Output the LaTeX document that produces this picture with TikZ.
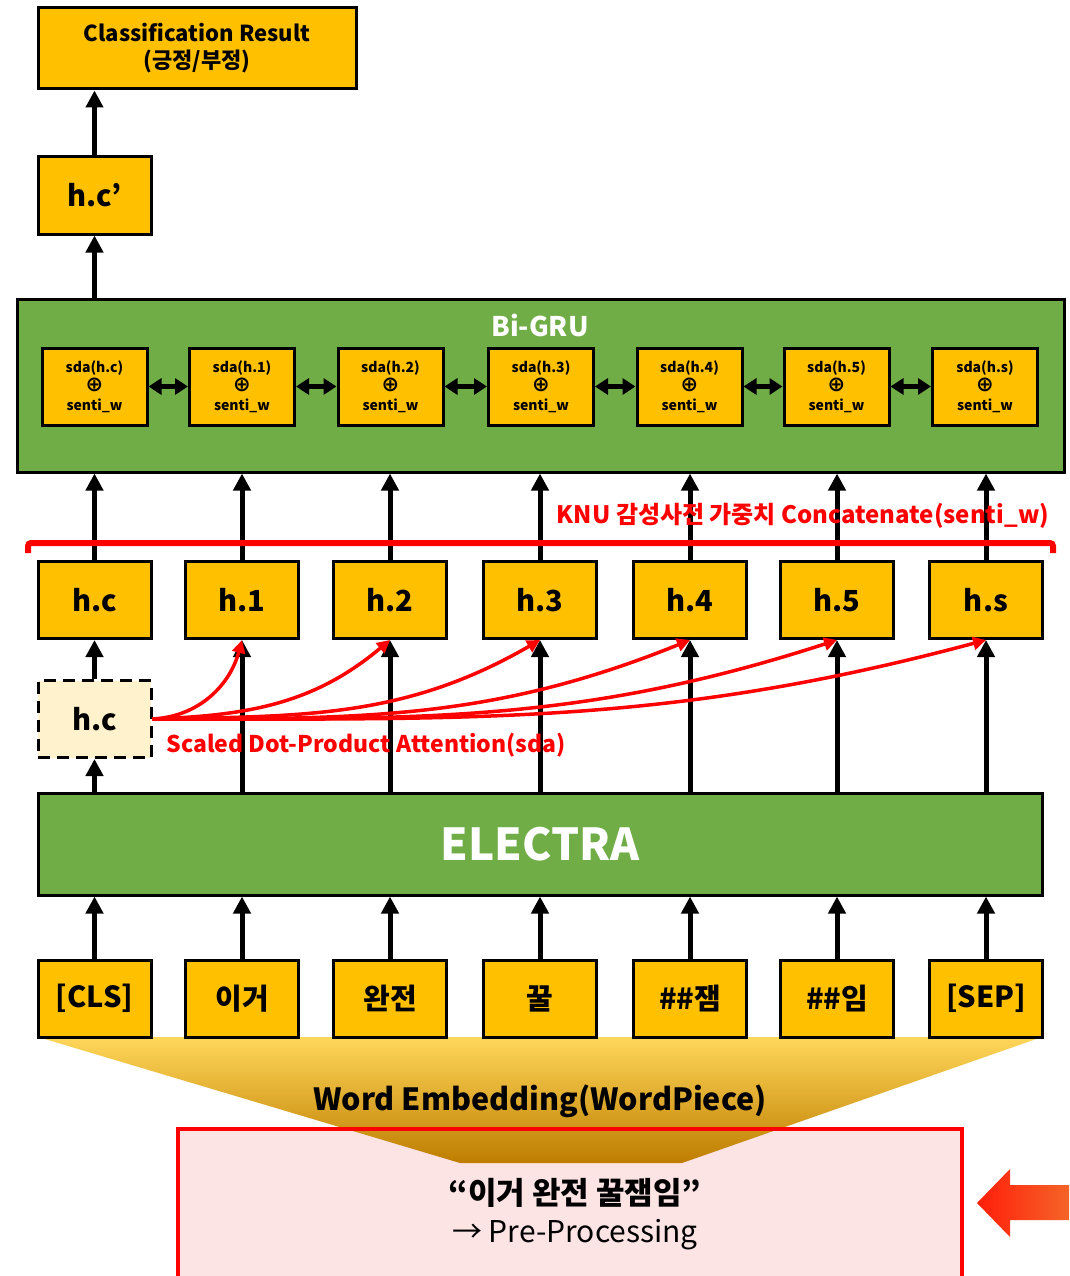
\documentclass[tikz,border=0pt]{standalone}
\usepackage{fontspec}
\setmainfont{Noto Sans CJK KR}
\newfontfamily\symfont{DejaVu Sans}
\usetikzlibrary{arrows.meta,shapes.arrows}

\definecolor{boxorange}{RGB}{255,192,0}
\definecolor{boxgreen}{RGB}{112,173,71}
\definecolor{boxcream}{RGB}{255,242,204}
\definecolor{boxpink}{RGB}{253,228,228}
\definecolor{funtop}{RGB}{255,215,90}
\definecolor{funmid}{RGB}{250,188,10}
\definecolor{funbot}{RGB}{190,125,0}
\definecolor{arrred}{RGB}{255,30,10}
\definecolor{arrorange}{RGB}{245,100,40}

\tikzset{
  tok/.style={draw=black, line width=3pt, fill=boxorange, minimum width=113pt,
    minimum height=77pt, inner sep=0pt, font=\bfseries\fontsize{29}{30}\selectfont},
  sdabox/.style={draw=black, line width=3pt, fill=boxorange, minimum width=105pt,
    minimum height=77pt, inner sep=0pt, align=center,
    font=\bfseries\fontsize{14}{19}\selectfont},
  greenbox/.style={draw=black, line width=3pt, fill=boxgreen, inner sep=0pt},
  up/.style={line width=5pt, -{Triangle[width=17pt,length=17pt]}},
  both/.style={line width=5pt, {Triangle[width=16pt,length=13pt]}-{Triangle[width=16pt,length=13pt]}},
  attn/.style={draw=red, line width=3.5pt, -{Triangle[width=13pt,length=13pt]}},
  redtext/.style={text=red, font=\bfseries\fontsize{23}{26}\selectfont}
}
\newcommand{\plusop}{{\symfont\bfseries\fontsize{21}{19}\selectfont ⊕}}

\begin{document}
\begin{tikzpicture}[x=1pt,y=-1pt]
  \useasboundingbox (0,0) rectangle (1069,1276);

  % Pre-Processing box and funnel
  \fill[boxpink] (176,1127) rectangle (960,1290);
  \shade[top color=funtop, middle color=funmid, bottom color=funbot]
    (38,1037) -- (1042,1037) -- (682,1163) -- (460,1163) -- cycle;
  \node[draw=red, line width=4pt, minimum width=784pt, minimum height=163pt,
    inner sep=0pt, anchor=north west] (pre) at (176,1127) {};
  \node (quote) at (575,1193) {\bfseries\fontsize{31}{32}\selectfont “이거 완전 꿀잼임”};
  \node (prep) at (575,1235) {\fontsize{30}{32}\selectfont → Pre-Processing};
  \node (embed) at (540,1101) {\bfseries\fontsize{30.5}{32}\selectfont Word Embedding(WordPiece)};

  % Freccia di input
  \shade[left color=arrred, right color=arrorange]
    (977,1203) -- (1010,1169) -- (1010,1185) -- (1069,1185) -- (1069,1220)
    -- (1010,1220) -- (1010,1237) -- cycle;

  % Token
  \node[tok] (t0) at (94.5,998.5) {[CLS]};
  \node[tok] (t1) at (242,998.5) {이거};
  \node[tok] (t2) at (390,998.5) {완전};
  \node[tok] (t3) at (540,998.5) {꿀};
  \node[tok] (t4) at (690,998.5) {\#\#잼};
  \node[tok] (t5) at (837,998.5) {\#\#임};
  \node[tok] (t6) at (986,998.5) {[SEP]};

  % ELECTRA
  \node[greenbox, minimum width=1004pt, minimum height=102pt, text=white,
    font=\bfseries\fontsize{44}{50}\selectfont] (electra) at (540,844) {ELECTRA};

  % Hidden states
  \node[tok] (h0) at (94.5,600) {h.c};
  \node[tok] (h1) at (242,600) {h.1};
  \node[tok] (h2) at (390,600) {h.2};
  \node[tok] (h3) at (540,600) {h.3};
  \node[tok] (h4) at (690,600) {h.4};
  \node[tok] (h5) at (837,600) {h.5};
  \node[tok] (h6) at (986,600) {h.s};
  \node[tok, fill=boxcream, dashed, dash pattern=on 12pt off 7pt] (hcd) at (94.5,719) {h.c};

  % Bi-GRU
  \node[greenbox, minimum width=1047pt, minimum height=173pt] (gru) at (540.5,385.5) {};
  \node[text=white, font=\bfseries\fontsize{27}{30}\selectfont] (grulabel) at (540,325) {Bi-GRU};
  \node[sdabox] (s0) at (94.5,386.5) {sda(h.c)\\\plusop\\senti\_w};
  \node[sdabox] (s1) at (242,386.5) {sda(h.1)\\\plusop\\senti\_w};
  \node[sdabox] (s2) at (390.5,386.5) {sda(h.2)\\\plusop\\senti\_w};
  \node[sdabox] (s3) at (541,386.5) {sda(h.3)\\\plusop\\senti\_w};
  \node[sdabox] (s4) at (689.5,386.5) {sda(h.4)\\\plusop\\senti\_w};
  \node[sdabox] (s5) at (836.5,386.5) {sda(h.5)\\\plusop\\senti\_w};
  \node[sdabox] (s6) at (985,386.5) {sda(h.s)\\\plusop\\senti\_w};
  \draw[both] (s0) -- (s1);
  \draw[both] (s1) -- (s2);
  \draw[both] (s2) -- (s3);
  \draw[both] (s3) -- (s4);
  \draw[both] (s4) -- (s5);
  \draw[both] (s5) -- (s6);

  % Uscita
  \node[tok] (hcp) at (94.5,195.5) {h.c’};
  \node[draw=black, line width=3pt, fill=boxorange, minimum width=318pt,
    minimum height=81pt, inner sep=0pt, align=center,
    font=\bfseries\fontsize{22}{27}\selectfont] (result) at (197,48.5)
    {Classification Result\\(긍정/부정)};
  \draw[up] (gru.north -| hcp.south) -- (hcp.south);
  \draw[up] (hcp.north) -- (result.south -| hcp.north);

  % Frecce token -> ELECTRA
  \foreach \i in {0,...,6} {
    \draw[up] (t\i.north) -- (t\i.north |- electra.south);
  }
  % Frecce ELECTRA -> h
  \draw[up] (electra.north -| hcd.south) -- (hcd.south);
  \draw[up] (hcd.north) -- (h0.south);
  \foreach \i in {1,...,6} {
    \draw[up] (h\i.south |- electra.north) -- (h\i.south);
  }
  % Frecce h -> Bi-GRU
  \foreach \i in {0,...,6} {
    \draw[up] (h\i.north) -- (h\i.north |- gru.south);
  }

  % Concatenazione senti_w
  \coordinate (brl) at (28,553);
  \coordinate (brr) at (1053,553);
  \draw[red, line width=6pt, rounded corners=3pt] (brl) -- ++(0,-10) -- (1053,543) -- (brr);
  \node[redtext, font=\bfseries\fontsize{24}{26}\selectfont] (knu) at (803,516)
    {KNU 감성사전 가중치 Concatenate(senti\_w)};

  % Attenzione
  \coordinate (src) at (hcd.east);
  \draw[attn] (src) to[out=3,in=-105] (h1.south);
  \draw[attn] (src) to[out=2,in=-140] (h2.south);
  \draw[attn] (src) to[out=1,in=-150] (h3.south);
  \draw[attn] (src) to[out=0,in=-158] (h4.south);
  \draw[attn] (src) to[out=0,in=-162] (h5.south);
  \draw[attn] (src) to[out=0,in=-165] (h6.south);
  \node[redtext, anchor=west] (sdalabel) at (163,745) {Scaled Dot-Product Attention(sda)};
\end{tikzpicture}
\end{document}
